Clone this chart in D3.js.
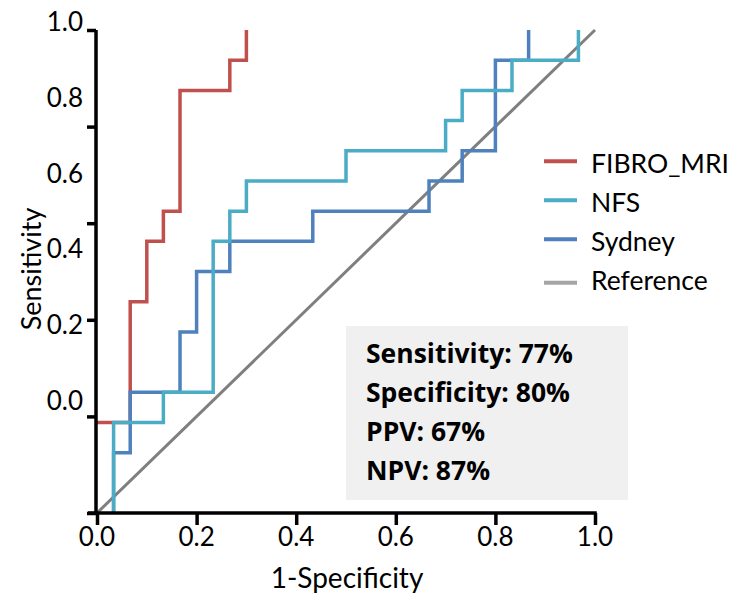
<!DOCTYPE html>
<html>
<head>
<meta charset="utf-8">
<script src="https://cdn.jsdelivr.net/npm/d3@7"></script>
<style>
  html, body { margin: 0; padding: 0; background: #fff; }
  svg { display: block; font-family: Lato, "Open Sans", sans-serif; }
</style>
</head>
<body>
<svg id="chart" width="738" height="596"></svg>
<script>
// ROC points (1-specificity, sensitivity); each curve steps across, then up
const fibroFpr = [0, 0.0667, 0.1, 0.1333, 0.1667, 0.2667, 0.3];
const fibroTpr = [0.1875, 0.4375, 0.5625, 0.625, 0.875, 0.9375, 1.0];

const sydneyFpr = [0.0333, 0.0333, 0.0667, 0.1667, 0.2, 0.2667, 0.4333, 0.6667, 0.7333, 0.8, 0.8667];
const sydneyTpr = [0, 0.125, 0.25, 0.375, 0.5, 0.5625, 0.625, 0.6875, 0.75, 0.9375, 1.0];

const nfsFpr = [0.0333, 0.0333, 0.1333, 0.2333, 0.2667, 0.3, 0.5, 0.7, 0.7333, 0.8333, 0.9667];
const nfsTpr = [0, 0.1875, 0.25, 0.5625, 0.625, 0.6875, 0.75, 0.8125, 0.875, 0.9375, 1.0];

const refFpr = [0, 1];
const refTpr = [0, 1];

const seriesNames = ["FIBRO_MRI", "NFS", "Sydney", "Reference"];
const tickValues = [0, 0.2, 0.4, 0.6, 0.8, 1.0];
const tickLabels = ["0.0", "0.2", "0.4", "0.6", "0.8", "1.0"];
const statLines = ["Sensitivity: 77%", "Specificity: 80%", "PPV: 67%", "NPV: 87%"];

const colors = {
  "FIBRO_MRI": "#C0504D",
  "NFS": "#4BACC6",
  "Sydney": "#4F81BD",
  "Reference": "#7F7F7F"
};
const legendRefColor = "#A5A5A5";

const svg = d3.select("#chart");

const x = d3.scaleLinear().domain([0, 1]).range([97, 595]);
const y = d3.scaleLinear().domain([0, 1]).range([513, 30]);
// the y tick labels sit on their own, tighter spacing
const yLabel = d3.scaleLinear().domain([0, 1]).range([410, 31]);

const zip = (xs, ys) => xs.map((v, i) => [v, ys[i]]);

const stepLine = d3.line()
  .x(d => x(d[0]))
  .y(d => y(d[1]))
  .curve(d3.curveStepAfter);
const straight = d3.line()
  .x(d => x(d[0]))
  .y(d => y(d[1]));

// diagonal reference
svg.append("path")
  .attr("d", straight(zip(refFpr, refTpr)))
  .attr("fill", "none")
  .attr("stroke", colors["Reference"])
  .attr("stroke-width", 3);

const curves = [
  { name: "FIBRO_MRI", pts: zip(fibroFpr, fibroTpr) },
  { name: "Sydney", pts: zip(sydneyFpr, sydneyTpr) },
  { name: "NFS", pts: zip(nfsFpr, nfsTpr) }
];

svg.selectAll("path.roc")
  .data(curves)
  .join("path")
  .attr("class", "roc")
  .attr("d", d => stepLine(d.pts))
  .attr("fill", "none")
  .attr("stroke", d => colors[d.name])
  .attr("stroke-width", 3.5)
  .attr("stroke-linejoin", "miter")
  .attr("stroke-linecap", "butt");

// axes
const xAxis = d3.axisBottom(x)
  .tickValues(tickValues)
  .tickFormat("")
  .tickSize(12)
  .tickSizeOuter(0);
const yAxis = d3.axisLeft(y)
  .tickValues(tickValues)
  .tickFormat("")
  .tickSize(9)
  .tickSizeOuter(0);

const gx = svg.append("g").attr("transform", "translate(0,513)").call(xAxis);
const gy = svg.append("g").attr("transform", "translate(96,0)").call(yAxis);
[gx, gy].forEach(g => {
  g.selectAll("path, line").attr("stroke", "#000").attr("stroke-width", 3.5);
});
gy.select(".domain").attr("d", `M0,${y(1)}V${y(0) + 1.75}`);
gx.select(".domain").attr("d", `M${x(0) - 9},0H${x(1) + 1.75}`);

// tick labels
svg.selectAll("text.xtick")
  .data(tickValues)
  .join("text")
  .attr("class", "xtick")
  .attr("x", d => x(d))
  .attr("y", 546)
  .attr("text-anchor", "middle")
  .attr("font-size", 26)
  .attr("fill", "#000")
  .text((d, i) => tickLabels[i]);

svg.selectAll("text.ytick")
  .data(tickValues)
  .join("text")
  .attr("class", "ytick")
  .attr("x", 83)
  .attr("y", d => yLabel(d))
  .attr("text-anchor", "end")
  .attr("font-size", 26)
  .attr("fill", "#000")
  .text((d, i) => tickLabels[i]);

// axis titles
svg.append("text")
  .attr("x", 347)
  .attr("y", 588)
  .attr("text-anchor", "middle")
  .attr("font-size", 28)
  .attr("fill", "#000")
  .text("1-Specificity");

svg.append("text")
  .attr("transform", "translate(41,269) rotate(-90)")
  .attr("text-anchor", "middle")
  .attr("font-size", 27)
  .attr("fill", "#000")
  .text("Sensitivity");

// legend
const legend = svg.append("g");
seriesNames.forEach((name, i) => {
  const base = 172.7 + i * 39;
  const isRef = name === "Reference";
  const ly = isRef ? base - 7 : base - 11.5;
  legend.append("line")
    .attr("x1", 544).attr("x2", 577)
    .attr("y1", ly).attr("y2", ly)
    .attr("stroke", isRef ? legendRefColor : colors[name])
    .attr("stroke-width", 4);
  legend.append("text")
    .attr("x", 591)
    .attr("y", base)
    .attr("font-size", 26.5)
    .attr("fill", "#000")
    .text(name);
});

// summary box
const box = svg.append("g");
box.append("rect")
  .attr("x", 346).attr("y", 326)
  .attr("width", 282).attr("height", 174)
  .attr("fill", "#F0F0F0");
box.selectAll("text")
  .data(statLines)
  .join("text")
  .attr("x", 366)
  .attr("y", (d, i) => 363 + i * 39)
  .attr("font-family", "'Open Sans', Lato, sans-serif")
  .attr("font-size", 26.5)
  .attr("font-weight", "bold")
  .attr("fill", "#000")
  .text(d => d);
</script>
</body>
</html>
